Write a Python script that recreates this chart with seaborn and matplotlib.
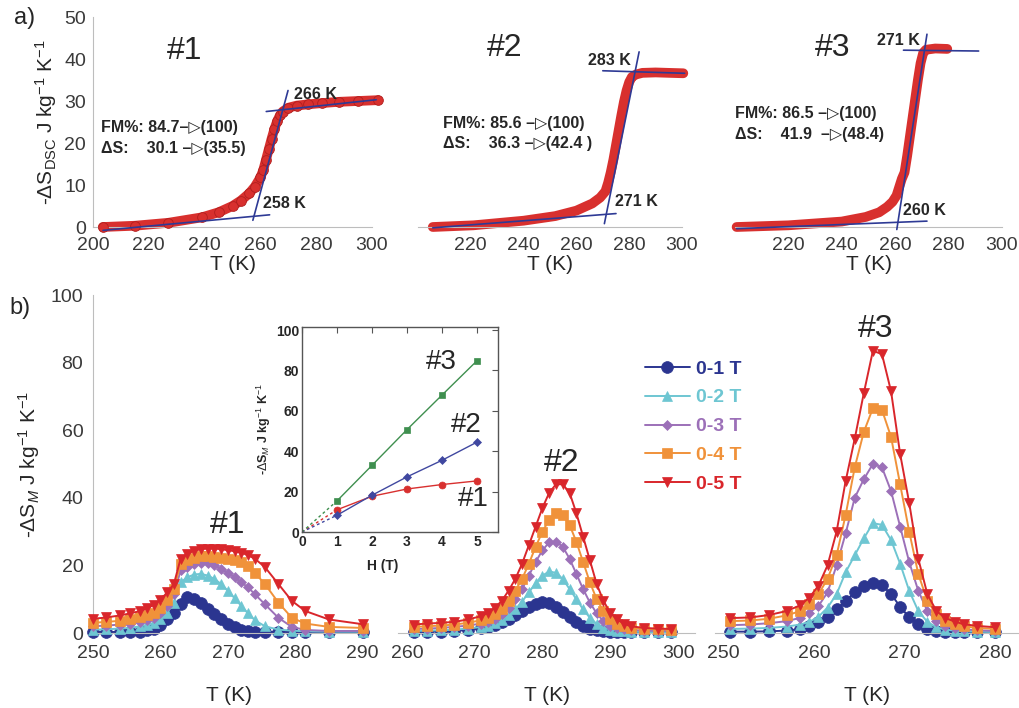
import numpy as np
import pandas as pd
import matplotlib
matplotlib.use("Agg")
import matplotlib.pyplot as plt
import seaborn as sns

sns.set_style("white")
plt.rcParams['font.family'] = ['Liberation Sans', 'DejaVu Sans']
plt.rcParams['mathtext.fontset'] = 'custom'
plt.rcParams['mathtext.rm'] = 'Liberation Sans'
plt.rcParams['mathtext.it'] = 'Liberation Sans:italic'
plt.rcParams['mathtext.bf'] = 'Liberation Sans:bold'

# ---------------- panel a: DSC entropy curves ----------------
T_dsc1 = [203.5, 215, 227, 239, 245, 250, 253, 256, 258, 260, 261, 262, 263, 264, 265, 266, 267, 268, 270, 273, 277, 282, 288, 295, 302]
S_dsc1 = [0.0, 0.3, 1.0, 2.3, 3.5, 5.0, 6.3, 8.0, 9.6, 11.8, 13.5, 16.0, 18.5, 21.0, 23.3, 25.2, 26.6, 27.5, 28.4, 28.9, 29.2, 29.5, 29.8, 30.0, 30.2]
T_dsc2 = [205.6, 221, 240, 252, 260, 266, 269, 271, 272, 273, 274, 275, 276, 277, 278, 279, 280, 281, 282.5, 285, 290, 295, 300.5]
S_dsc2 = [0.0, 0.4, 1.5, 2.6, 3.9, 5.6, 7.0, 8.5, 10.5, 13.0, 16.0, 19.5, 23.0, 26.5, 29.8, 32.5, 34.5, 35.7, 36.3, 36.7, 36.8, 36.7, 36.6]
T_dsc3 = [200.6, 220, 240, 249, 254, 257, 259, 260.5, 261.5, 262.5, 263.5, 264.5, 265.5, 266.5, 267.5, 268.5, 269.5, 270.5, 271.5, 275, 279.5]
S_dsc3 = [0.0, 0.4, 1.3, 2.4, 3.5, 4.8, 6.0, 7.5, 9.5, 11.5, 13.0, 17.0, 21.5, 26.0, 30.5, 35.0, 39.0, 41.5, 42.2, 42.5, 42.4]

# tangent lines (T, S endpoints)
tan1_T = [[203.6, 263.3], [257.3, 269.9], [262.1, 301.5]]
tan1_S = [[-0.8, 2.9], [1.6, 32.5], [27.5, 30.3]]
tan2_T = [[205.6, 275.0], [270.6, 283.75], [270.0, 301.0]]
tan2_S = [[-0.2, 3.2], [0.8, 41.7], [37.2, 36.6]]
tan3_T = [[200.6, 271.9], [260.6, 271.9], [263.1, 291.25]]
tan3_S = [[-0.4, 1.4], [-0.6, 45.9], [42.1, 41.9]]

onset_labels = [["266 K", "258 K"], ["283 K", "271 K"], ["271 K", "260 K"]]
fm_labels = ["FM%: 84.7\u2013\u25B7(100)", "FM%: 85.6 \u2013\u25B7(100)", "FM%: 86.5 \u2013\u25B7(100)"]
ds_labels = ["\u0394S:    30.1 \u2013\u25B7(35.5)", "\u0394S:    36.3 \u2013\u25B7(42.4 )", "\u0394S:    41.9  \u2013\u25B7(48.4)"]
sample_names = ["#1", "#2", "#3"]

# ---------------- panel b: magnetic entropy change ----------------
field_labels = ["0-1 T", "0-2 T", "0-3 T", "0-4 T", "0-5 T"]

T_b1 = [250, 252, 254, 255.5, 257, 258, 259, 260, 261, 262, 263, 264, 265, 266, 267, 268, 269, 270, 271, 272, 273, 274, 275.5, 277.5, 279.5, 281.5, 285, 290]
b1_01 = [0.3, 0.3, 0.3, 0.3, 0.4, 0.8, 1.3, 2.5, 4, 6, 8.5, 10.7, 10.2, 9, 7.2, 5.5, 4, 2.8, 1.7, 1.0, 0.6, 0.4, 0.3, 0.3, 0.3, 0.3, 0.3, 0.3]
b1_02 = [1.0, 1.1, 1.3, 1.5, 2.0, 2.4, 3.0, 4.0, 6.0, 9.0, 15.0, 16.5, 17.3, 17.5, 17.0, 16.0, 14.5, 12.5, 10.3, 8.0, 5.8, 3.8, 2.0, 1.0, 0.7, 0.5, 0.4, 0.4]
b1_03 = [2.0, 2.2, 2.5, 2.8, 3.3, 3.8, 4.5, 6.0, 8.0, 11.5, 18.5, 19.5, 20.3, 20.8, 20.7, 20.0, 19.0, 17.8, 16.5, 15.0, 13.5, 11.5, 8.5, 4.5, 1.8, 0.9, 0.6, 0.6]
b1_04 = [3.0, 3.3, 3.6, 4.0, 4.6, 5.2, 6.0, 7.5, 9.8, 13.0, 20.5, 21.5, 22.3, 22.7, 22.8, 22.6, 22.3, 21.9, 21.5, 21.0, 19.8, 17.8, 14.5, 9.0, 4.5, 2.8, 1.8, 1.5]
b1_05 = [4.2, 4.6, 5.2, 5.8, 6.5, 7.3, 8.3, 9.8, 12.0, 14.5, 22.0, 23.5, 24.3, 24.8, 25.0, 25.0, 24.8, 24.5, 24.2, 23.8, 23.0, 22.0, 19.5, 14.5, 9.5, 6.5, 4.0, 2.6]

T_b2 = [261, 263, 265, 267, 269, 271, 272, 273, 274, 275, 276, 277, 278, 279, 280, 281, 282, 283, 284, 285, 286, 287, 288, 289, 290, 291, 292, 293, 295, 297, 299]
b2_01 = [0.3, 0.35, 0.4, 0.6, 0.9, 1.4, 1.8, 2.4, 3.2, 4.2, 5.4, 6.6, 7.8, 8.7, 9.2, 8.8, 7.8, 6.3, 4.6, 3.2, 2.1, 1.3, 0.8, 0.5, 0.4, 0.3, 0.3, 0.25, 0.2, 0.2, 0.2]
b2_02 = [0.6, 0.7, 0.8, 1.0, 1.3, 1.8, 2.2, 2.9, 3.8, 5.2, 7.0, 9.3, 12.0, 14.8, 17.0, 18.2, 17.8, 16.0, 13.0, 10.0, 7.0, 4.5, 2.7, 1.6, 1.0, 0.7, 0.5, 0.4, 0.3, 0.3, 0.3]
b2_03 = [1.2, 1.3, 1.5, 1.8, 2.2, 2.8, 3.3, 4.2, 5.5, 7.5, 10.0, 13.0, 17.0, 21.0, 24.5, 26.8, 27.0, 25.5, 22.0, 17.5, 13.0, 9.0, 5.8, 3.5, 2.2, 1.5, 1.1, 0.9, 0.7, 0.6, 0.6]
b2_04 = [1.8, 2.0, 2.2, 2.5, 3.0, 3.8, 4.5, 5.5, 7.0, 9.5, 12.5, 16.0, 20.5, 25.5, 30.0, 33.5, 35.5, 35.0, 32.0, 27.0, 21.0, 15.0, 10.0, 6.5, 4.0, 2.8, 2.0, 1.5, 1.2, 1.1, 1.0]
b2_05 = [2.5, 2.8, 3.0, 3.3, 4.0, 5.0, 6.0, 7.5, 9.5, 12.5, 16.0, 20.5, 26.0, 31.5, 37.0, 41.5, 44.0, 44.0, 41.5, 35.5, 28.5, 21.5, 14.5, 9.5, 6.0, 4.0, 2.8, 2.0, 1.5, 1.3, 1.2]

T_b3 = [250.7, 253, 255, 257, 258.5, 259.5, 260.5, 261.5, 262.5, 263.5, 264.5, 265.5, 266.5, 267.5, 268.5, 269.5, 270.5, 271.5, 272.5, 273.5, 274.5, 275.5, 276.5, 278, 280]
b3_01 = [0.4, 0.4, 0.5, 0.7, 1.2, 2.0, 3.2, 4.8, 7.0, 9.5, 12.0, 13.8, 14.7, 14.2, 11.5, 7.8, 4.6, 2.6, 1.2, 0.6, 0.4, 0.3, 0.3, 0.3, 0.3]
b3_02 = [1.2, 1.3, 1.5, 1.9, 2.5, 3.3, 4.8, 7.5, 11.5, 18.0, 23.0, 28.0, 32.5, 32.0, 27.5, 20.5, 12.5, 6.5, 3.3, 1.7, 1.0, 0.7, 0.5, 0.4, 0.3]
b3_03 = [2.3, 2.5, 2.9, 3.5, 4.5, 6.0, 8.0, 12.0, 20.0, 29.5, 40.0, 45.5, 50.0, 49.0, 42.0, 31.5, 21.0, 12.5, 6.5, 3.5, 2.1, 1.5, 1.1, 0.8, 0.6]
b3_04 = [3.5, 3.7, 4.2, 5.2, 6.5, 8.5, 11.5, 16.0, 23.0, 35.0, 49.0, 59.5, 66.5, 66.0, 58.0, 44.0, 30.0, 17.5, 9.5, 5.5, 3.5, 2.6, 2.0, 1.5, 1.2]
b3_05 = [4.4, 4.6, 5.3, 6.5, 8.2, 10.5, 14.0, 20.0, 30.0, 45.0, 57.5, 71.0, 83.5, 82.5, 71.5, 53.0, 38.5, 22.0, 11.5, 6.5, 4.4, 3.4, 2.6, 2.1, 1.7]

# inset: peak -dS_M vs field
H_inset = [1, 2, 3, 4, 5]
inset_s1 = [11.0, 17.7, 21.3, 23.5, 25.3]
inset_s2 = [8.3, 18.2, 27.3, 35.5, 44.5]
inset_s3 = [15.4, 33.0, 50.7, 67.8, 84.8]

# ---------------- styling ----------------
W, Hh = 1020, 708
def rect(x0, x1, ytop, ybot):
    return [x0 / W, 1 - ybot / Hh, (x1 - x0) / W, (ybot - ytop) / Hh]

RED = '#d8302e'
TAN = '#2e3a95'
SPINE = '#bdbdbd'
TICKC = '#3a3a3a'
ser_colors = ['#2b3590', '#6ec6d2', '#9c70b8', '#f0923a', '#d9262b']
ser_markers = ['o', '^', 'D', 's', 'v']
ser_ms = [8.5, 6.5, 5.5, 6.5, 6.5]

fig = plt.figure(figsize=(10.2, 7.08), dpi=100)

def style_axis(ax, show_y, xpad, ypad):
    for s in ['top', 'right']:
        ax.spines[s].set_visible(False)
    ax.spines['bottom'].set_color(SPINE)
    ax.spines['left'].set_color(SPINE)
    ax.spines['left'].set_visible(show_y)
    ax.tick_params(axis='both', direction='in', length=5, color=SPINE,
                   labelsize=14, labelcolor=TICKC)
    ax.tick_params(axis='x', pad=xpad)
    ax.tick_params(axis='y', pad=ypad)
    if not show_y:
        ax.tick_params(axis='y', left=False, labelleft=False)
    ax.set_facecolor('none')

# ---- panel a axes
a_rects = [rect(93, 372, 17, 227), rect(418, 682, 17, 227), rect(735, 1002, 17, 227)]
a_T = [T_dsc1, T_dsc2, T_dsc3]
a_S = [S_dsc1, S_dsc2, S_dsc3]
a_tT = [tan1_T, tan2_T, tan3_T]
a_tS = [tan1_S, tan2_S, tan3_S]
onset_pos = [[(272.2, 31.6), (260.9, 5.6)], [(264.4, 39.7), (274.6, 6.0)], [(253.1, 44.5), (263.1, 4.0)]]
fm_pos = [(203, 23.8, 18.8), (209.4, 24.6, 19.8), (200.0, 27.0, 22.0)]
title_pos = [(233, 42), (233, 42.6), (236.7, 42.6)]

for i in range(3):
    ax = fig.add_axes(a_rects[i])
    style_axis(ax, i == 0, xpad=7, ypad=5)
    sns.lineplot(x=a_T[i], y=a_S[i], ax=ax, color=RED, lw=7, solid_capstyle='round',
                 clip_on=False, zorder=2)
    if i == 0:
        sns.lineplot(x=a_T[i], y=a_S[i], ax=ax, color=RED, lw=0, marker='o', markersize=7,
                     markeredgecolor='#b01e1e', markeredgewidth=0.6, clip_on=False, zorder=3)
    for tt, ss in zip(a_tT[i], a_tS[i]):
        sns.lineplot(x=tt, y=ss, ax=ax, color=TAN, lw=1.2, clip_on=False, zorder=4)
    ax.set_xlim(200, 300)
    ax.set_ylim(0, 50)
    ax.set_xticks([200, 220, 240, 260, 280, 300])
    if i == 0:
        ax.set_xticklabels(['200', '220', '240', '260', '280', '300'])
        ax.set_yticks([0, 10, 20, 30, 40, 50])
        ax.set_ylabel(r'-$\Delta$S$_{\rm DSC}$ J kg$^{-1}$ K$^{-1}$', fontsize=15, labelpad=4)
    else:
        ax.set_xticklabels(['', '220', '240', '260', '280', '300'])
        ax.set_ylabel('')
    ax.set_xlabel('T (K)', fontsize=15, labelpad=1)
    ax.text(title_pos[i][0], title_pos[i][1], sample_names[i], fontsize=23, ha='center', va='center')
    for lab, (px, py) in zip(onset_labels[i], onset_pos[i]):
        ax.text(px, py, lab, fontsize=11.5, fontweight='bold', ha='left', va='center')
    fx, fy1, fy2 = fm_pos[i]
    ax.text(fx, fy1, fm_labels[i], fontsize=11.5, fontweight='bold', ha='left', va='center')
    ax.text(fx, fy2, ds_labels[i], fontsize=11.5, fontweight='bold', ha='left', va='center')

# ---- panel b axes
b_rects = [rect(93, 366, 295, 633), rect(398, 695, 295, 633), rect(715, 1019, 295, 633)]
b_xlim = [(250, 290.5), (258.7, 302.5), (249.1, 282.6)]
b_ticks = [[250, 260, 270, 280, 290], [260, 270, 280, 290, 300], [250, 260, 270, 280]]
b_T = [T_b1, T_b2, T_b3]
b_S = [[b1_01, b1_02, b1_03, b1_04, b1_05],
       [b2_01, b2_02, b2_03, b2_04, b2_05],
       [b3_01, b3_02, b3_03, b3_04, b3_05]]
b_title = [(269.9, 32), (282.9, 50.3), (266.8, 90)]

legend_handles = []
for i in range(3):
    ax = fig.add_axes(b_rects[i])
    style_axis(ax, i == 0, xpad=9, ypad=7)
    for k in range(5):
        sns.lineplot(x=b_T[i], y=b_S[i][k], ax=ax, color=ser_colors[k], lw=1.4,
                     marker=ser_markers[k], markersize=ser_ms[k],
                     markeredgecolor=ser_colors[k], markeredgewidth=0.5,
                     clip_on=False, zorder=2 + k)
        if i == 2:
            legend_handles.append(ax.lines[-1])
    ax.set_xlim(*b_xlim[i])
    ax.set_ylim(0, 100)
    ax.set_xticks(b_ticks[i])
    if i == 0:
        ax.set_yticks([0, 20, 40, 60, 80, 100])
        ax.set_ylabel(r'-$\Delta$S$_{M}$ J kg$^{-1}$ K$^{-1}$', fontsize=15, labelpad=6)
    else:
        ax.set_ylabel('')
    ax.set_xlabel('T (K)', fontsize=15, labelpad=17)
    ax.text(b_title[i][0], b_title[i][1], sample_names[i], fontsize=23, ha='center', va='center')

leg = fig.legend(legend_handles, field_labels, loc='upper left',
                 bbox_to_anchor=(645 / W, 1 - 360 / Hh), frameon=False,
                 prop={'weight': 'bold', 'size': 14}, labelcolor='linecolor',
                 handlelength=2.3, handletextpad=0.3, labelspacing=0.58,
                 borderaxespad=0, borderpad=0)

# ---- inset
axi = fig.add_axes(rect(302, 498, 327, 532))
inset_colors = ['#d8302f', '#4048a0', '#3f8f4f']
inset_markers = ['o', 'D', 's']
inset_sets = [inset_s1, inset_s2, inset_s3]
for k in range(3):
    sns.lineplot(x=[0, H_inset[0]], y=[0, inset_sets[k][0]], ax=axi, color=inset_colors[k],
                 lw=1.0, linestyle=(0, (2, 2)), zorder=2)
    sns.lineplot(x=H_inset, y=inset_sets[k], ax=axi, color=inset_colors[k], lw=1.0,
                 marker=inset_markers[k], markersize=5 if k != 1 else 4,
                 markeredgecolor=inset_colors[k], markeredgewidth=0.5, zorder=3)
axi.set_xlim(0, 5.6)
axi.set_ylim(0, 101.5)
axi.set_xticks([0, 1, 2, 3, 4, 5])
axi.set_yticks([0, 20, 40, 60, 80, 100])
for s in axi.spines.values():
    s.set_color('#555555')
    s.set_linewidth(1.0)
axi.tick_params(axis='both', direction='in', length=4, color='#555555', top=True, right=True,
                labelsize=10, pad=2)
for lab in axi.get_xticklabels() + axi.get_yticklabels():
    lab.set_fontweight('bold')
axi.set_xlabel('H (T)', fontsize=10, fontweight='bold', labelpad=1)
axi.xaxis.set_label_coords(0.41, -0.13)
axi.set_ylabel(r'-$\Delta$S$_{M}$ J kg$^{-1}$ K$^{-1}$', fontsize=9, fontweight='bold', labelpad=2)
axi.text(3.99, 84, '#3', fontsize=20, ha='center', va='center')
axi.text(4.7, 53, '#2', fontsize=20, ha='center', va='center')
axi.text(4.9, 16.5, '#1', fontsize=20, ha='center', va='center')
axi.set_facecolor('white')

# panel letters
fig.text(25 / W, 1 - 18 / Hh, 'a)', fontsize=17, ha='center', va='center')
fig.text(20 / W, 1 - 308 / Hh, 'b)', fontsize=17, ha='center', va='center')

fig.savefig('out.png', dpi=100, facecolor='white')
